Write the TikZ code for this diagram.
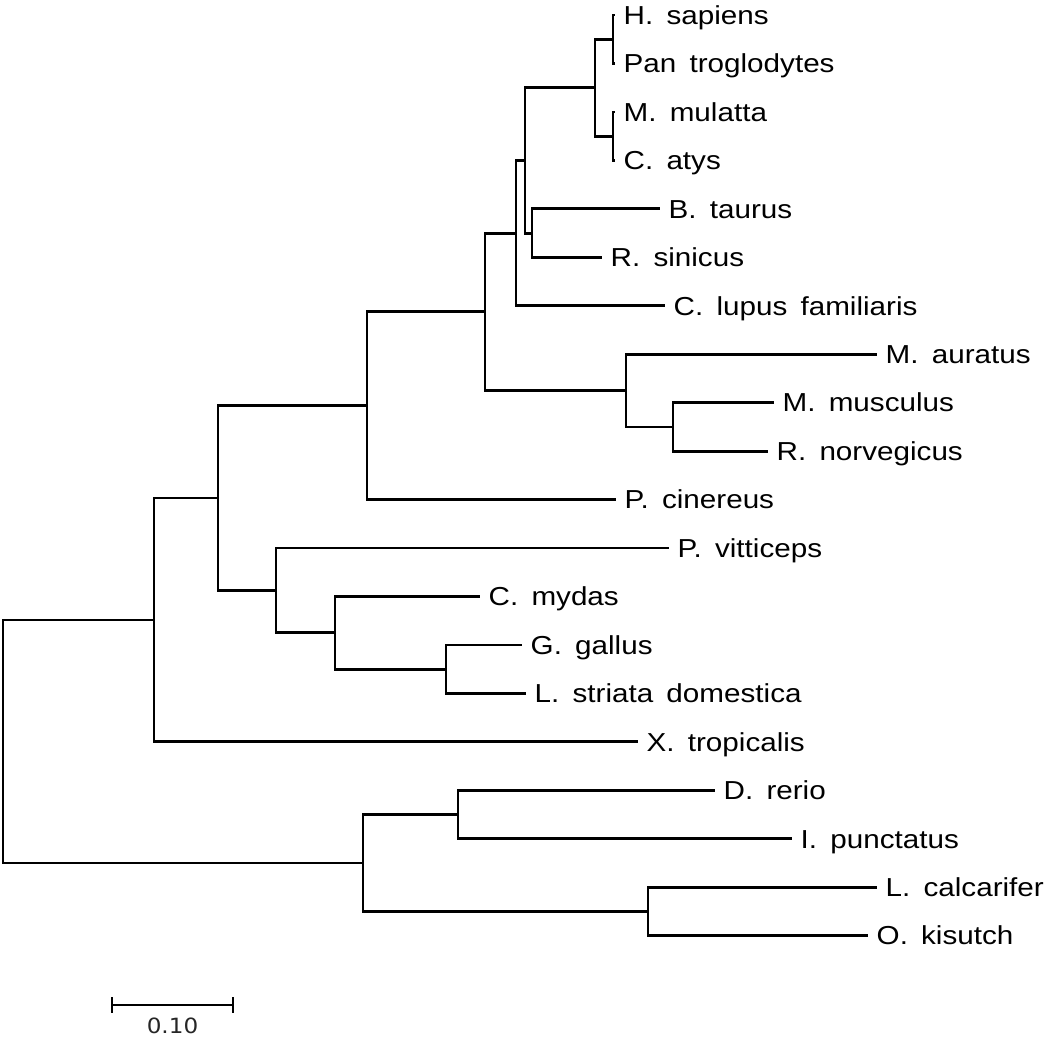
\documentclass[tikz,border=0pt]{standalone}
\usepackage{fontspec}
\newfontfamily\labfont[FakeStretch=1.14,WordSpace=1.6]{Liberation Sans}
\newfontfamily\barfont[FakeStretch=1.1]{DejaVu Sans}
\begin{document}
\begin{tikzpicture}[x=1pt,y=-1pt,
  branch/.style={line width=2.8pt,line join=miter,line cap=butt},
  lab/.style={inner sep=0pt,anchor=base west,font=\labfont\fontsize{26}{30}\selectfont,xshift=8.5pt,yshift=-9.3pt},
  barlab/.style={inner sep=0pt,font=\barfont\fontsize{21}{24}\selectfont,text=black!85}]
\useasboundingbox (0,0) rectangle (1050,1039);
% tips
\coordinate (t0) at (615,15.0);
\coordinate (t1) at (615,63.5);
\coordinate (t2) at (615,111.9);
\coordinate (t3) at (615,160.4);
\coordinate (t4) at (660,208.8);
\coordinate (t5) at (602,257.3);
\coordinate (t6) at (665,305.7);
\coordinate (t7) at (877,354.2);
\coordinate (t8) at (774,402.6);
\coordinate (t9) at (768,451.1);
\coordinate (t10) at (616,499.5);
\coordinate (t11) at (669,548.0);
\coordinate (t12) at (480,596.4);
\coordinate (t13) at (522,644.9);
\coordinate (t14) at (526,693.3);
\coordinate (t15) at (638,741.8);
\coordinate (t16) at (715,790.2);
\coordinate (t17) at (792,838.7);
\coordinate (t18) at (877,887.1);
\coordinate (t19) at (868,935.6);
% internal nodes
\coordinate (nH) at (613,39.2);
\coordinate (nI) at (613,136.2);
\coordinate (nG) at (595,87.7);
\coordinate (nJ) at (532,233.1);
\coordinate (nF) at (525,160.4);
\coordinate (nE) at (516,233.1);
\coordinate (nL) at (673,426.9);
\coordinate (nK) at (626,390.5);
\coordinate (nD) at (485,311.8);
\coordinate (nC) at (367,405.7);
\coordinate (nO) at (446,669.1);
\coordinate (nN) at (335,632.8);
\coordinate (nM) at (276,590.4);
\coordinate (nB) at (218,498.0);
\coordinate (nA) at (154,619.9);
\coordinate (nQ) at (458,814.5);
\coordinate (nR) at (648,911.3);
\coordinate (nP) at (363,862.9);
\coordinate (root) at (3,741.4);
% branches
\draw[branch] (root) |- (nA);
\draw[branch] (root) |- (nP);
\draw[branch] (nA) |- (nB);
\draw[branch] (nA) |- (t15);
\draw[branch] (nB) |- (nC);
\draw[branch] (nB) |- (nM);
\draw[branch] (nC) |- (nD);
\draw[branch] (nC) |- (t10);
\draw[branch] (nD) |- (nE);
\draw[branch] (nD) |- (nK);
\draw[branch] (nE) |- (nF);
\draw[branch] (nE) |- (t6);
\draw[branch] (nF) |- (nG);
\draw[branch] (nF) |- (nJ);
\draw[branch] (nG) |- (nH);
\draw[branch] (nG) |- (nI);
\draw[branch] (nH) |- (t0);
\draw[branch] (nH) |- (t1);
\draw[branch] (nI) |- (t2);
\draw[branch] (nI) |- (t3);
\draw[branch] (nJ) |- (t4);
\draw[branch] (nJ) |- (t5);
\draw[branch] (nK) |- (t7);
\draw[branch] (nK) |- (nL);
\draw[branch] (nL) |- (t8);
\draw[branch] (nL) |- (t9);
\draw[branch] (nM) |- (t11);
\draw[branch] (nM) |- (nN);
\draw[branch] (nN) |- (t12);
\draw[branch] (nN) |- (nO);
\draw[branch] (nO) |- (t13);
\draw[branch] (nO) |- (t14);
\draw[branch] (nP) |- (nQ);
\draw[branch] (nP) |- (nR);
\draw[branch] (nQ) |- (t16);
\draw[branch] (nQ) |- (t17);
\draw[branch] (nR) |- (t18);
\draw[branch] (nR) |- (t19);
% labels
\node[lab] (l0) at (t0) {H. sapiens};
\node[lab] (l1) at (t1) {Pan troglodytes};
\node[lab] (l2) at (t2) {M. mulatta};
\node[lab] (l3) at (t3) {C. atys};
\node[lab] (l4) at (t4) {B. taurus};
\node[lab] (l5) at (t5) {R. sinicus};
\node[lab] (l6) at (t6) {C. lupus familiaris};
\node[lab] (l7) at (t7) {M. auratus};
\node[lab] (l8) at (t8) {M. musculus};
\node[lab] (l9) at (t9) {R. norvegicus};
\node[lab] (l10) at (t10) {P. cinereus};
\node[lab] (l11) at (t11) {P. vitticeps};
\node[lab] (l12) at (t12) {C. mydas};
\node[lab] (l13) at (t13) {G. gallus};
\node[lab] (l14) at (t14) {L. striata domestica};
\node[lab] (l15) at (t15) {X. tropicalis};
\node[lab] (l16) at (t16) {D. rerio};
\node[lab] (l17) at (t17) {I. punctatus};
\node[lab] (l18) at (t18) {L. calcarifer};
\node[lab] (l19) at (t19) {O. kisutch};
% scale bar
\coordinate (sbL) at (112,1005);
\coordinate (sbR) at (233,1005);
\coordinate (sbLt) at (112,997);
\coordinate (sbLb) at (112,1013);
\coordinate (sbRt) at (233,997);
\coordinate (sbRb) at (233,1013);
\draw[branch] (sbL) -- (sbR);
\draw[branch] (sbLt) -- (sbLb);
\draw[branch] (sbRt) -- (sbRb);
\node[barlab] (sbtext) at (172.5,1025.5) {0.10};
\end{tikzpicture}
\end{document}
